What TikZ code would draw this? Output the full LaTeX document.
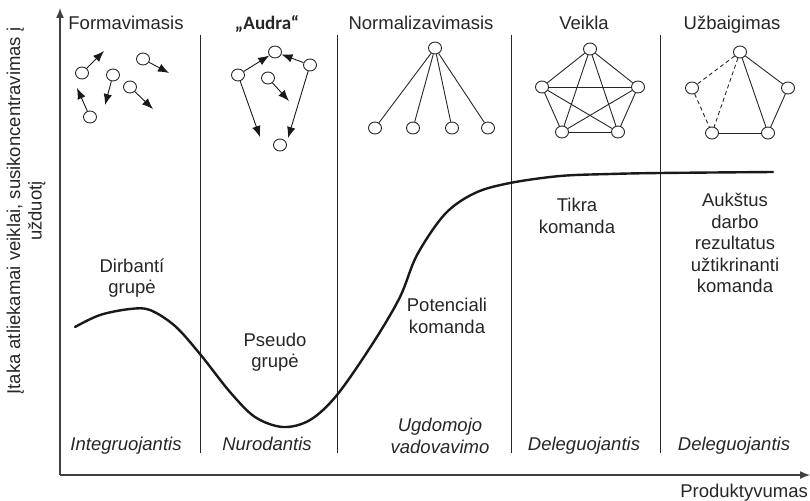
\documentclass[tikz,border=0pt]{standalone}
\usepackage{fontspec}
\setmainfont{Liberation Sans}
\newfontfamily\calib{Carlito}
\usetikzlibrary{arrows.meta,shapes.geometric}
\begin{document}
\begin{tikzpicture}[x=1pt,y=-1pt,
  every node/.style={font=\fontsize{18.5}{21.5}\selectfont, text=black!85, inner sep=0pt},
  lbl/.style={align=center},
  ital/.style={align=center, font=\fontsize{18.5}{21.5}\selectfont\itshape},
  sep/.style={line width=1pt, black!85},
  ax/.style={line width=1.4pt, black!75, -{Latex[length=10pt,width=8pt]}},
  dot/.style={ellipse, draw=black!85, line width=0.9pt, minimum width=13pt, minimum height=12pt, fill=white},
  mv/.style={line width=0.9pt, black!90, -{Latex[length=11pt,width=8.5pt]}},
  ed/.style={line width=0.9pt, black!85},
  ded/.style={line width=0.9pt, black!85, dashed, dash pattern=on 4pt off 3pt}
]
\useasboundingbox (0,0) rectangle (810,500);

% axes
\coordinate (o) at (60,475);
\coordinate (ytop) at (60,8);
\coordinate (xend) at (810,475);
\draw[ax] (o) -- (ytop);
\draw[ax] (o) -- (xend);

% separators
\foreach \x in {200,337,511,660}{
  \draw[sep] (\x,35) -- (\x,453);
}

% titles
\node[anchor=base] (t1) at (126,30) {Formavimasis};
\node[anchor=base, font=\calib\bfseries\fontsize{19}{22}\selectfont] (t2) at (267,30) {„Audra“};
\node[anchor=base] (t3) at (421,30) {Normalizavimasis};
\node[anchor=base] (t4) at (584,30) {Veikla};
\node[anchor=base] (t5) at (732,30) {Užbaigimas};

% Formavimasis nodes
\node[dot] (fa) at (82,73) {};
\node[dot] (fb) at (143,59) {};
\node[dot] (fc) at (113,75) {};
\node[dot] (fd) at (130,87) {};
\node[dot] (fe) at (90,117) {};
\coordinate (fa2) at (104,51);
\coordinate (fb2) at (169,73);
\coordinate (fc2) at (105,105);
\coordinate (fd2) at (153,109);
\coordinate (fe2) at (77,88);
\draw[mv] (fa) -- (fa2);
\draw[mv] (fb) -- (fb2);
\draw[mv] (fc) -- (fc2);
\draw[mv] (fd) -- (fd2);
\draw[mv] (fe) -- (fe2);

% Audra nodes
\node[dot] (aa) at (238,75) {};
\node[dot] (ab) at (275,52) {};
\node[dot] (ac) at (310,65) {};
\node[dot] (ad) at (268,78) {};
\node[dot] (ae) at (280,145) {};
\coordinate (ad2) at (289,101);
\coordinate (aa2) at (260,137);
\coordinate (ac2) at (288,138);
\draw[mv] (aa) -- (ab);
\draw[mv] (ac) -- (ab);
\draw[mv] (ad) -- (ad2);
\draw[mv] (aa) -- (aa2);
\draw[mv] (ac) -- (ac2);

% Normalizavimasis
\node[dot] (nt) at (435,48) {};
\node[dot] (n1) at (375,128) {};
\node[dot] (n2) at (413,128) {};
\node[dot] (n3) at (452,128) {};
\node[dot] (n4) at (488,128) {};
\foreach \b in {n1,n2,n3,n4}{\draw[ed] (nt) -- (\b);}

% Veikla
\node[dot] (vt) at (590,49) {};
\node[dot] (vl) at (542,87) {};
\node[dot] (vr) at (638,87) {};
\node[dot] (vbl) at (562,132) {};
\node[dot] (vbr) at (618,132) {};
\draw[ed] (vt) -- (vl); \draw[ed] (vt) -- (vr); \draw[ed] (vt) -- (vbl); \draw[ed] (vt) -- (vbr);
\draw[ed] (vl) -- (vr); \draw[ed] (vl) -- (vbl); \draw[ed] (vl) -- (vbr);
\draw[ed] (vr) -- (vbl); \draw[ed] (vr) -- (vbr);
\draw[ed] (vbl) -- (vbr);

% Uzbaigimas
\node[dot] (ut) at (740,52) {};
\node[dot] (ul) at (692,88) {};
\node[dot] (ur) at (788,88) {};
\node[dot] (ubl) at (712,133) {};
\node[dot] (ubr) at (768,133) {};
\draw[ed] (ut) -- (ur); \draw[ed] (ut) -- (ubr); \draw[ed] (ur) -- (ubr); \draw[ed] (ubl) -- (ubr);
\draw[ded] (ut) -- (ul); \draw[ded] (ul) -- (ubl); \draw[ded] (ut) -- (ubl);

% curve
\draw[line width=2.4pt, black!90, line cap=round] plot[smooth, tension=0.55] coordinates {
 (75,327) (100,315) (130,309) (150,310) (175,326) (200,354) (230,392) (255,417) (283,427) (310,420) (337,395) (373,343) (400,297) (417,255) (445,214) (475,193) (510,183) (560,176) (610,174) (660,173) (773,172)};

% labels
\node[lbl] (l1) at (132,278) {Dirbantí\\grupė};
\node[lbl] (l2) at (275,352) {Pseudo\\grupė};
\node[lbl] (l3) at (447,316) {Potenciali\\komanda};
\node[lbl] (l4) at (577,216) {Tikra\\komanda};
\node[lbl] (l5) at (735,243) {Aukštus\\darbo\\rezultatus\\užtikrinanti\\komanda};

% leadership styles
\node[ital, anchor=base] (s1) at (126,450) {Integruojantis};
\node[ital, anchor=base] (s2) at (267,450) {Nurodantis};
\node[ital] (s3) at (440,436) {Ugdomojo\\vadovavimo};
\node[ital, anchor=base] (s4) at (584,450) {Deleguojantis};
\node[ital, anchor=base] (s5) at (734,450) {Deleguojantis};

% axis labels
\node[anchor=base east] (xl) at (808,497) {Produktyvumas};
\node[lbl, rotate=90] (yl) at (26,211) {Įtaka atliekamai veiklai, susikoncentravimas į\\užduotį};
\end{tikzpicture}
\end{document}
